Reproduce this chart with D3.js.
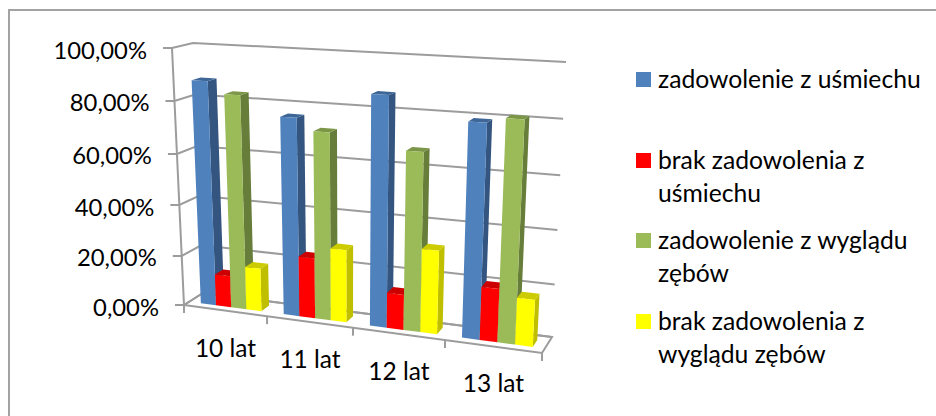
<!DOCTYPE html>
<html lang="pl">
<head>
<meta charset="utf-8">
<style>
html,body{margin:0;padding:0;background:#fff}
svg{display:block}
text{font-family:Lato,"Open Sans",sans-serif;fill:#000}
</style>
<script src="https://cdn.jsdelivr.net/npm/d3@7/dist/d3.min.js"></script>
</head>
<body>
<svg id="chart" width="936" height="416"></svg>
<script>
const categories = ["10 lat", "11 lat", "12 lat", "13 lat"];
const tickValues = [0, 20, 40, 60, 80, 100];
const tickLabels = ["0,00%", "20,00%", "40,00%", "60,00%", "80,00%", "100,00%"];
const seriesNames = ["zadowolenie z uśmiechu", "brak zadowolenia z uśmiechu", "zadowolenie z wyglądu zębów", "brak zadowolenia z wyglądu zębów"];
const happySmile = [87.5, 76, 86.5, 79];
const unhappySmile = [12.5, 23.5, 13.5, 20];
const happyTeeth = [83, 71.5, 67, 81];
const unhappyTeeth = [17, 28, 31.5, 17.5];
const seriesValues = [happySmile, unhappySmile, happyTeeth, unhappyTeeth];
const frontColors = ["#4f81bd", "#ff0000", "#9bbb59", "#ffff00"];
const sideColors = ["#34557f", "#c00000", "#677d3a", "#bfbf00"];
const topColors = ["#3e6797", "#cc0000", "#7c9647", "#cccc00"];
const legendLines = [["zadowolenie z uśmiechu"], ["brak zadowolenia z", "uśmiechu"], ["zadowolenie z wyglądu", "zębów"], ["brak zadowolenia z", "wyglądu zębów"]];

const svg = d3.select("#chart");
const gridColor = "#9c9c9c";

// Corners of the 3D plot box in screen space.
const box = {
  floorFrontL: [184, 305], floorFrontR: [542, 353],
  floorBackL: [203, 293], floorBackR: [552, 337],
  topFrontL: [172, 48], topFrontR: [556, 68],
  topBackL: [193, 43], topBackR: [566, 62]
};
const mix = (a, b, k) => [a[0] + (b[0] - a[0]) * k, a[1] + (b[1] - a[1]) * k];

// Perspective foreshortening along the category axis and up the value axis.
const along = d3.scaleLinear().domain([0, 1, 2, 3, 4]).range([0, 0.232, 0.472, 0.729, 1]);
const up = d3.scaleLinear().domain(tickValues).range([0, 0.191, 0.389, 0.588, 0.794, 1]);

function project(u, depth, value) {
  const t = along(u);
  const base = mix(mix(box.floorFrontL, box.floorFrontR, t), mix(box.floorBackL, box.floorBackR, t), depth);
  const roof = mix(mix(box.topFrontL, box.topFrontR, t), mix(box.topBackL, box.topBackR, t), depth);
  return mix(base, roof, up(value));
}
const poly = pts => d3.line()(pts) + "Z";

// Chart frame: only the top and left edges fall inside the canvas.
svg.append("path").attr("d", "M9,416V10H936").attr("fill", "none").attr("stroke", "#a3a3a3").attr("stroke-width", 2);

// Walls: gridlines on the back wall and the left side wall, plus tick stubs.
const grid = svg.append("g").attr("fill", "none").attr("stroke", gridColor).attr("stroke-width", 2);
tickValues.forEach(v => {
  const front = project(0, 0, v), back = project(0, 1, v), right = project(4, 1, v);
  grid.append("path").attr("d", d3.line()([[front[0] - 9, front[1]], front, back, right]));
});
grid.append("path").attr("d", d3.line()([project(0, 0, 0), project(0, 0, 100)]));
grid.append("path").attr("d", poly([project(0, 0, 0), project(4, 0, 0), project(4, 1, 0), project(0, 1, 0)]));
d3.range(0, 5).forEach(i => {
  const p = project(i, 0, 0);
  grid.append("path").attr("d", d3.line()([p, [p[0], p[1] + 8]]));
});

// Value labels.
svg.append("g").selectAll("text").data(tickValues).join("text")
  .attr("x", v => project(0, 0, v)[0] - 25)
  .attr("y", v => project(0, 0, v)[1] + 10.5)
  .attr("text-anchor", "end").attr("font-size", 23.8)
  .text((v, i) => tickLabels[i]);

// Category labels.
svg.append("g").selectAll("text").data(categories).join("text")
  .attr("x", (c, i) => project(i + 0.5, 0, 0)[0])
  .attr("y", (c, i) => project(i + 0.5, 0, 0)[1] + 46)
  .attr("text-anchor", "middle").attr("font-size", 24.5)
  .text(c => c);

// Bars, painted left to right so each front face covers its neighbour's side.
const band = d3.scaleBand().domain(d3.range(seriesNames.length)).range([0.14, 0.875]);
const d0 = 0.28, d1 = 0.72;
const bars = svg.append("g");
categories.forEach((c, i) => {
  seriesValues.forEach((values, s) => {
    const v = values[i];
    const u0 = i + band(s), u1 = u0 + band.bandwidth();
    bars.append("path").attr("fill", sideColors[s])
      .attr("d", poly([project(u1, d0, 0), project(u1, d1, 0), project(u1, d1, v), project(u1, d0, v)]));
    bars.append("path").attr("fill", topColors[s])
      .attr("d", poly([project(u0, d0, v), project(u1, d0, v), project(u1, d1, v), project(u0, d1, v)]));
    bars.append("path").attr("fill", frontColors[s])
      .attr("d", poly([project(u0, d0, 0), project(u1, d0, 0), project(u1, d0, v), project(u0, d0, v)]));
  });
});

// Legend.
const legendTops = [72, 153, 233, 314];
const legend = svg.append("g");
legendLines.forEach((lines, s) => {
  legend.append("rect").attr("x", 636).attr("y", legendTops[s]).attr("width", 15).attr("height", 15).attr("fill", frontColors[s]);
  lines.forEach((line, k) => {
    legend.append("text").attr("x", 658).attr("y", legendTops[s] + 16 + k * 32.5).attr("font-size", 24.7).text(line);
  });
});
</script>
</body>
</html>
